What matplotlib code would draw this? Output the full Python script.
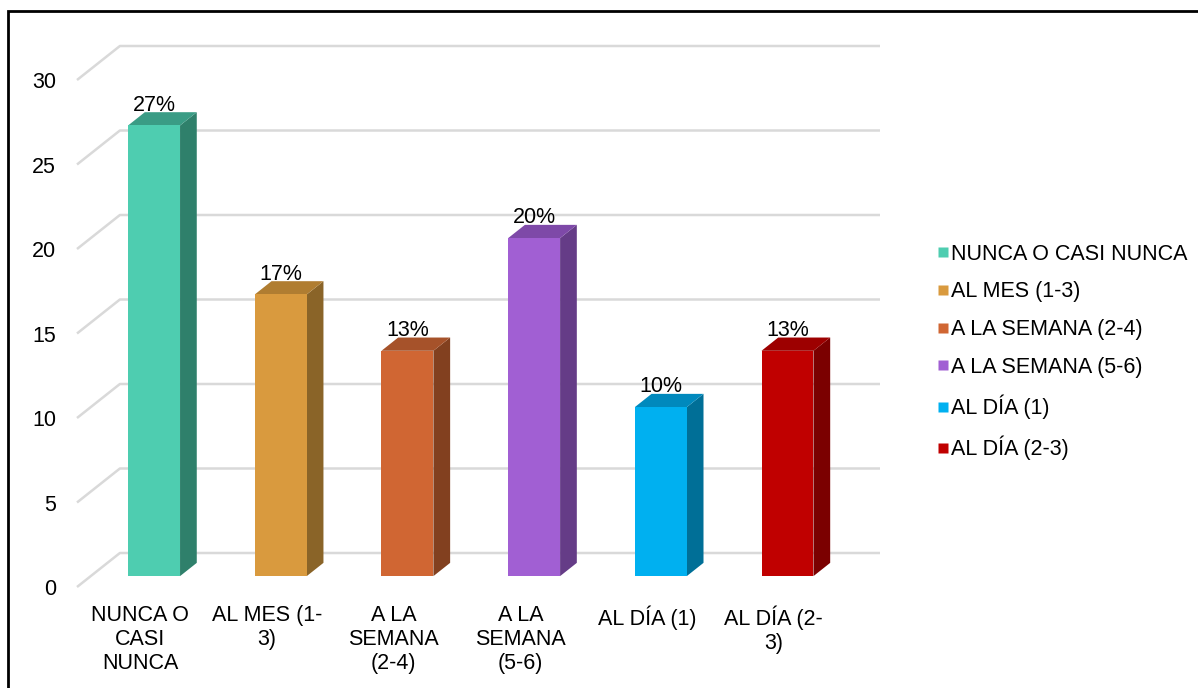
import matplotlib.pyplot as plt
from matplotlib.patches import Polygon, Rectangle
from matplotlib.lines import Line2D

categories = ["NUNCA O CASI NUNCA", "AL MES (1-3)", "A LA SEMANA (2-4)",
              "A LA SEMANA (5-6)", "AL DÍA (1)", "AL DÍA (2-3)"]
tick_labels = ["NUNCA O\nCASI\nNUNCA", "AL MES (1-\n3)", "A LA\nSEMANA\n(2-4)",
               "A LA\nSEMANA\n(5-6)", "AL DÍA (1)", "AL DÍA (2-\n3)"]
counts = [8, 5, 4, 6, 3, 4]
total = 30
percents = [100 * c / total for c in counts]

front_colors = ["#4ECDB0", "#D99A3E", "#D06633", "#A15FD3", "#00B0F0", "#C00000"]
side_colors = ["#2F806B", "#8A6428", "#82401F", "#653C87", "#006F97", "#7B0000"]
top_colors = ["#3A9C85", "#B07D31", "#A6522A", "#7E49A8", "#0089BD", "#9D0000"]

plt.rcParams['font.family'] = ['Liberation Sans', 'DejaVu Sans']
FS = 15.5

# oblique projection: full depth shifts right and up
DX = 0.3386
DY = 2.012
D0, D1 = 0.32, 0.71
HALF = 0.205


def proj(x, y, d):
    return (x + d * DX, y + d * DY)


fig = plt.figure(figsize=(11.98, 6.88), dpi=100)
ax = fig.add_axes([77 / 1198, (688 - 587) / 688, (880 - 77) / 1198, (587 - 46) / 688])
ax.set_xlim(-0.5, 5.5 + DX)
ax.set_ylim(0, 30 + DY)
for s in ax.spines.values():
    s.set_visible(False)

# back wall gridlines with the floor-edge diagonals
grid_c = "#D9D9D9"
for v in range(0, 31, 5):
    x0, y0 = proj(-0.5, v, 0)
    x1, y1 = proj(-0.5, v, 1)
    x2, y2 = proj(5.5, v, 1)
    ax.plot([x0, x1, x2], [y0, y1, y2], color=grid_c, lw=1.8, zorder=1,
            solid_capstyle='butt', clip_on=False)

for i, p in enumerate(percents):
    xl, xr = i - HALF, i + HALF
    front = [proj(xl, 0, D0), proj(xr, 0, D0), proj(xr, p, D0), proj(xl, p, D0)]
    side = [proj(xr, 0, D0), proj(xr, 0, D1), proj(xr, p, D1), proj(xr, p, D0)]
    top = [proj(xl, p, D0), proj(xr, p, D0), proj(xr, p, D1), proj(xl, p, D1)]
    ax.add_patch(Polygon(side, closed=True, facecolor=side_colors[i], edgecolor='none', zorder=3))
    ax.add_patch(Polygon(top, closed=True, facecolor=top_colors[i], edgecolor='none', zorder=3))
    ax.add_patch(Polygon(front, closed=True, facecolor=front_colors[i], edgecolor='none', zorder=4))
    lx, ly = proj(i, p, D1)
    ax.text(i + D0 * DX, ly + 0.1, f"{p:.0f}%", ha='center', va='baseline',
            fontsize=FS, color='black', zorder=5)

ax.set_yticks(range(0, 31, 5))
ax.set_xticks(range(len(categories)))
ax.set_xticklabels(tick_labels, fontsize=FS, linespacing=1.2)
ax.tick_params(axis='y', length=0, pad=15, labelsize=FS)
ax.tick_params(axis='x', length=0, pad=13)

handles = [Line2D([], [], marker='s', linestyle='none', markersize=7.5,
                  markerfacecolor=c, markeredgecolor='none') for c in front_colors]
fig.legend(handles, categories, loc='center left',
           bbox_to_anchor=(928 / 1198, (688 - 352) / 688), frameon=False,
           fontsize=FS, handlelength=0.55, handletextpad=0.12, labelspacing=0.78,
           borderaxespad=0)

# outer frame (only top and left edges fall inside the image)
fig.add_artist(Rectangle((8 / 1198, -0.5), 2, (688 - 11) / 688 + 0.5,
                         transform=fig.transFigure, fill=False,
                         edgecolor='black', lw=2))

fig.savefig("out.png", dpi=100)
